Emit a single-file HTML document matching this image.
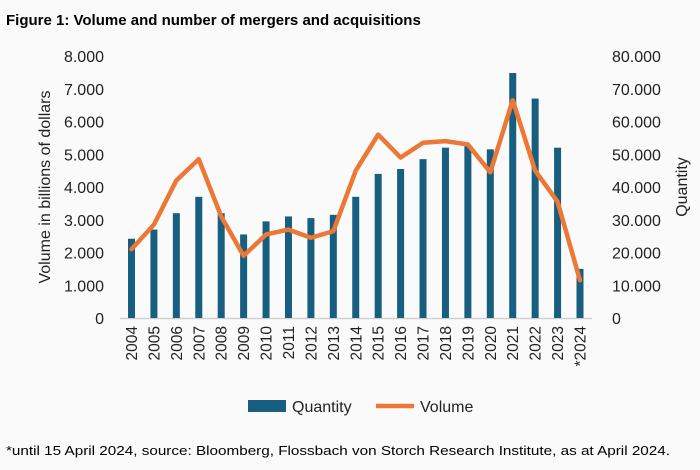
<!DOCTYPE html>
<html><head><meta charset="utf-8"><style>
body{margin:0;background:#fafafa;}
svg{display:block;font-family:"Liberation Sans",sans-serif;}
</style></head><body>
<svg width="700" height="470" viewBox="0 0 700 470">
<rect width="700" height="470" fill="#fafafa"/>
<text x="6" y="25" font-size="15" font-weight="bold" fill="#000">Figure 1: Volume and number of mergers and acquisitions</text>
<g font-size="16" fill="#222" text-anchor="end" id="la"></g>
<g font-size="16" fill="#222" text-anchor="start" id="ra"></g>
<text transform="translate(50,187) rotate(-90)" font-size="16" fill="#222" text-anchor="middle">Volume in billions of dollars</text>
<text transform="translate(687,187) rotate(-90)" font-size="16" fill="#222" text-anchor="middle">Quantity</text>
<line x1="120" y1="318.5" x2="592" y2="318.5" stroke="#d0d0d0" stroke-width="1.5"/>
<g id="bars" fill="#175e80"></g>
<polyline id="line" fill="none" stroke="#ed7734" stroke-width="4.5" stroke-linejoin="round" stroke-linecap="round"/>
<g id="yrs" font-size="15.5" fill="#222"></g>
<rect x="248" y="400" width="38" height="12" fill="#175e80"/>
<text x="292" y="412" font-size="16" fill="#222">Quantity</text>
<line x1="376" y1="406" x2="414" y2="406" stroke="#ed7734" stroke-width="4.5"/>
<text x="420" y="412" font-size="16" fill="#222">Volume</text>
<text x="6" y="455" font-size="13" fill="#000" textLength="664" lengthAdjust="spacingAndGlyphs">*until 15 April 2024, source: Bloomberg, Flossbach von Storch Research Institute, as at April 2024.</text>
</svg>
<script>
var ns="http://www.w3.org/2000/svg",b0=318,u=32.75;
var la=document.getElementById('la'),ra=document.getElementById('ra');
for(var i=0;i<=8;i++){var y=b0-i*u+6;
var t=document.createElementNS(ns,'text');t.setAttribute('x',104);t.setAttribute('y',y);t.textContent=i==0?'0':i+'.000';la.appendChild(t);
var r=document.createElementNS(ns,'text');r.setAttribute('x',612);r.setAttribute('y',y);r.textContent=i==0?'0':(i*10)+'.000';ra.appendChild(r);}
var q=[2.42,2.7,3.2,3.7,3.2,2.55,2.95,3.1,3.05,3.15,3.7,4.4,4.55,4.85,5.2,5.25,5.15,7.48,6.7,5.2,1.5];
var v=[2.1,2.85,4.2,4.85,3.1,1.9,2.55,2.7,2.45,2.65,4.5,5.6,4.9,5.35,5.4,5.3,4.45,6.65,4.5,3.55,1.15];
var bars=document.getElementById('bars'),yrs=document.getElementById('yrs'),pts=[];
for(var i=0;i<21;i++){var x=131.5+i*22.425;
var r=document.createElementNS(ns,'rect');r.setAttribute('x',x-3.5);r.setAttribute('width',7);r.setAttribute('y',b0-q[i]*u);r.setAttribute('height',q[i]*u);bars.appendChild(r);
pts.push(x+','+(b0-v[i]*u));
var t=document.createElementNS(ns,'text');t.setAttribute('transform','translate('+(x+5.5)+',326) rotate(-90)');t.setAttribute('text-anchor','end');t.textContent=(i==20?'*':'')+(2004+i);yrs.appendChild(t);}
document.getElementById('line').setAttribute('points',pts.join(' '));
</script>
</body></html>
